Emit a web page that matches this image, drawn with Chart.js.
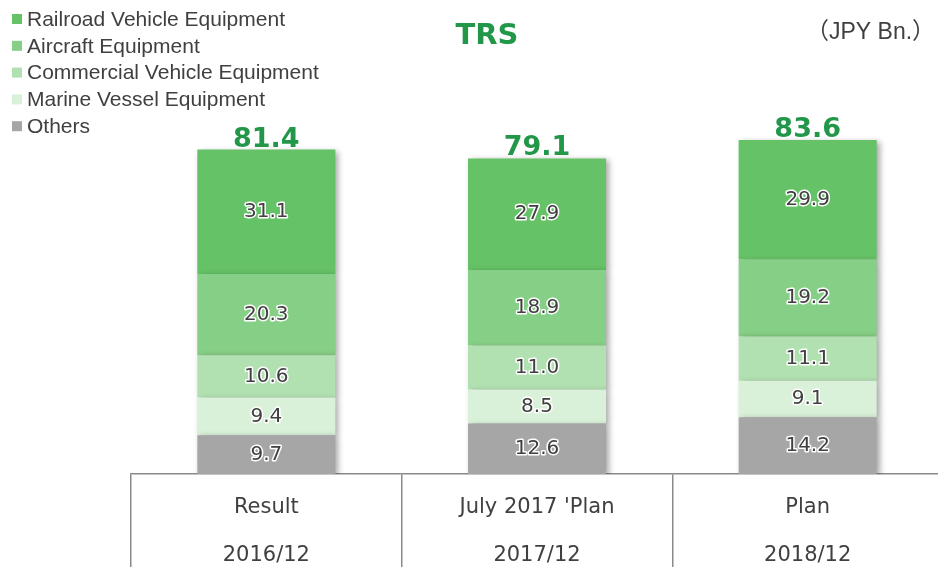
<!DOCTYPE html>
<html>
<head>
<meta charset="utf-8">
<script src="https://cdn.jsdelivr.net/npm/chart.js@4"></script>
<style>
  html, body { margin: 0; padding: 0; background: #fff; overflow: hidden; }
  canvas { display: block; }
</style>
</head>
<body>
<canvas id="barChart" width="946" height="567"></canvas>
<script>
const categories = [['Result', '2016/12'], ["July 2017 'Plan", '2017/12'], ['Plan', '2018/12']];
const others = [9.7, 12.6, 14.2];
const marine = [9.4, 8.5, 9.1];
const commercial = [10.6, 11.0, 11.1];
const aircraft = [20.3, 18.9, 19.2];
const railroad = [31.1, 27.9, 29.9];
const totals = [81.4, 79.1, 83.6];

const textColor = '#404040';
const green = '#22974a';

// segment labels, totals, title, unit and legend
const overlay = {
    id: 'overlay',
    beforeDatasetsDraw(chart) {
        const ctx = chart.ctx;
        ctx.save();
        ctx.shadowColor = 'rgba(0,0,0,0.35)';
        ctx.shadowBlur = 6;
        ctx.shadowOffsetX = 3;
        ctx.shadowOffsetY = 2;
    },
    afterDatasetsDraw(chart) {
        const ctx = chart.ctx;
        ctx.restore();
        ctx.save();
        ctx.font = '20px "DejaVu Sans"';
        ctx.textAlign = 'center';
        ctx.textBaseline = 'middle';
        ctx.lineJoin = 'round';
        chart.data.datasets.forEach((ds, i) => {
            chart.getDatasetMeta(i).data.forEach((bar, j) => {
                const y = (bar.y + bar.base) / 2;
                const txt = ds.data[j].toFixed(1);
                ctx.lineWidth = 3;
                ctx.strokeStyle = '#fff';
                ctx.strokeText(txt, bar.x, y);
                ctx.fillStyle = textColor;
                ctx.fillText(txt, bar.x, y);
            });
        });
        // totals
        const top = chart.getDatasetMeta(chart.data.datasets.length - 1).data;
        ctx.font = 'bold 27px "DejaVu Sans"';
        ctx.fillStyle = green;
        ctx.textBaseline = 'alphabetic';
        top.forEach((bar, j) => ctx.fillText(totals[j].toFixed(1), bar.x, bar.y - 3));
        ctx.restore();
    },
    afterDraw(chart) {
        const ctx = chart.ctx;
        ctx.save();
        ctx.textBaseline = 'middle';
        ctx.textAlign = 'center';
        ctx.fillStyle = green;
        ctx.font = 'bold 29px "DejaVu Sans"';
        ctx.fillText('TRS', 487, 36);
        ctx.textAlign = 'left';
        ctx.fillStyle = textColor;
        ctx.font = '23px "Liberation Sans", "Noto Sans CJK JP"';
        ctx.fillText('（JPY Bn.）', 806, 33);
        // legend, top series first
        ctx.font = '21px "Liberation Sans"';
        const ds = chart.data.datasets.slice().reverse();
        ds.forEach((d, i) => {
            const y = 19 + i * 26.8;
            ctx.fillStyle = d.backgroundColor;
            ctx.fillRect(12, y - 5, 10, 10);
            ctx.fillStyle = textColor;
            ctx.fillText(d.label, 27, y + 1);
        });
        ctx.restore();
    }
};

new Chart(document.getElementById('barChart'), {
    type: 'bar',
    data: {
        labels: categories,
        datasets: [
            { label: 'Others', data: others, backgroundColor: '#a6a6a6' },
            { label: 'Marine Vessel Equipment', data: marine, backgroundColor: '#d9f0d9' },
            { label: 'Commercial Vehicle Equipment', data: commercial, backgroundColor: '#b1e0b1' },
            { label: 'Aircraft Equipment', data: aircraft, backgroundColor: '#86cf86' },
            { label: 'Railroad Vehicle Equipment', data: railroad, backgroundColor: '#66c266' }
        ]
    },
    plugins: [overlay],
    options: {
        responsive: false,
        animation: false,
        layout: { padding: { top: 74, left: 131, right: 3, bottom: 0 } },
        datasets: { bar: { barPercentage: 0.51, categoryPercentage: 1 } },
        plugins: { legend: { display: false }, tooltip: { enabled: false } },
        scales: {
            x: {
                stacked: true,
                afterFit: (s) => { s.height = 93; },
                border: { display: true, color: '#8a8a8a', width: 1.5 },
                grid: { offset: true, drawOnChartArea: false, drawTicks: true, tickLength: 93, color: '#8a8a8a', lineWidth: 1.5 },
                ticks: {
                    color: textColor,
                    padding: -82.5,
                    font: { family: '"DejaVu Sans"', size: 21, lineHeight: 2.24 }
                }
            },
            y: { stacked: true, display: false, min: 0, max: 100 }
        }
    }
});
</script>
</body>
</html>
